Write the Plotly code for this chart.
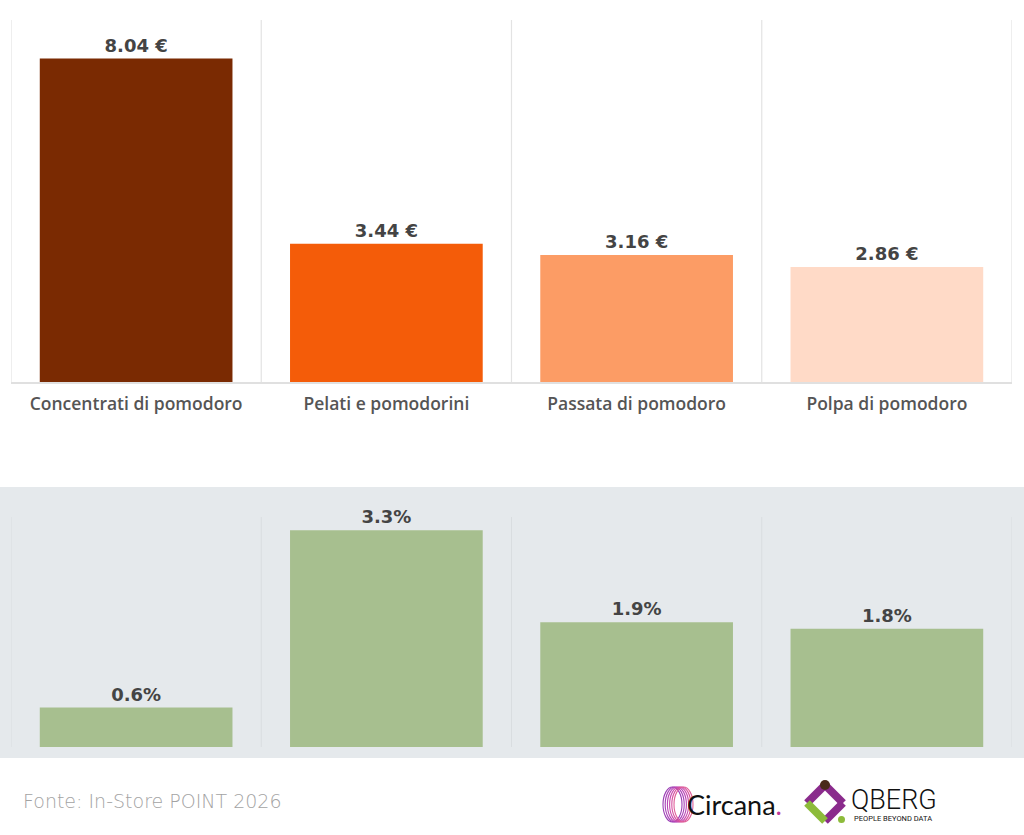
import plotly.graph_objects as go

categories = ["Concentrati di pomodoro", "Pelati e pomodorini", "Passata di pomodoro", "Polpa di pomodoro"]
prices = [8.04, 3.44, 3.16, 2.86]
price_labels = ["8.04 €", "3.44 €", "3.16 €", "2.86 €"]
growth = [0.6, 3.3, 1.9, 1.8]
growth_labels = ["0.6%", "3.3%", "1.9%", "1.8%"]
price_colors = ["#7A2A02", "#F45C09", "#FC9C65", "#FFDAC7"]
growth_color = "#A7BF8F"
source_text = "Fonte: In-Store POINT 2026"

W, H = 1024, 835
def px(x):
    return x / W
def py(y):
    return 1 - y / H

LABEL_FONT = dict(family="DejaVu Sans", size=18, color="#444444", weight=700)
fig = go.Figure()

fig.add_trace(go.Bar(
    x=categories, y=prices, text=price_labels, textposition="outside",
    texttemplate="%{text}", cliponaxis=False, width=0.77,
    marker=dict(color=price_colors, line=dict(width=0)),
    textfont=LABEL_FONT,
    xaxis="x", yaxis="y", hoverinfo="skip", showlegend=False,
))
fig.add_trace(go.Bar(
    x=categories, y=growth, text=growth_labels, textposition="outside",
    texttemplate="%{text}", cliponaxis=False, width=0.77,
    marker=dict(color=growth_color, line=dict(width=0)),
    textfont=LABEL_FONT,
    xaxis="x2", yaxis="y2", hoverinfo="skip", showlegend=False,
))

shapes = []
shapes.append(dict(type="rect", xref="paper", yref="paper", x0=0, x1=1,
                   y0=py(758), y1=py(487), fillcolor="#E5E9EC", line=dict(width=0), layer="below"))
for i in range(len(categories) + 1):
    shapes.append(dict(type="line", xref="x", yref="y domain", x0=i - 0.5, x1=i - 0.5,
                       y0=0, y1=1, line=dict(color="#E3E3E3", width=1.2), layer="below"))
    shapes.append(dict(type="line", xref="x2", yref="y2 domain", x0=i - 0.5, x1=i - 0.5,
                       y0=0, y1=1, line=dict(color="#D9DDE0", width=1), layer="below"))

# Circana logo rings
ring_cols = ["#9B3FB5", "#A843B8", "#B947B6", "#C84CAE", "#D6529F", "#E0609A"]
for k, c in enumerate(ring_cols):
    x0 = 663 + k * 2.2
    shapes.append(dict(type="circle", xref="paper", yref="paper",
                       x0=px(x0), x1=px(x0 + 19), y0=py(822), y1=py(787),
                       line=dict(color=c, width=1.1), fillcolor="rgba(0,0,0,0)"))
# QBERG diamond
cx, cy, r = 825, 803, 18
top = (px(cx), py(cy - r)); right = (px(cx + r), py(cy)); bot = (px(cx), py(cy + r)); left = (px(cx - r), py(cy))
def seg(a, b, col, w=8):
    return dict(type="line", xref="paper", yref="paper", x0=a[0], y0=a[1], x1=b[0], y1=b[1],
                line=dict(color=col, width=w))
shapes.append(seg(left, top, "#8A2B8C"))
shapes.append(seg(top, right, "#8A2B8C"))
shapes.append(seg(right, bot, "#8A2B8C"))
shapes.append(seg(bot, left, "#8DBB3A"))
shapes.append(dict(type="circle", xref="paper", yref="paper", x0=px(838), x1=px(845),
                   y0=py(823), y1=py(816), fillcolor="#8DBB3A", line=dict(width=0)))
shapes.append(dict(type="circle", xref="paper", yref="paper", x0=px(cx - 5), x1=px(cx + 5),
                   y0=py(cy - r + 5), y1=py(cy - r - 5), fillcolor="#4A2A1A", line=dict(width=0)))

annotations = [
    dict(text=source_text, xref="paper", yref="paper", x=px(21), y=py(801),
         xanchor="left", yanchor="middle", showarrow=False,
         font=dict(family="DejaVu Sans", size=19, color="#A3A3A3", weight=200)),
    dict(text="Circana<span style='color:#C0399A'>.</span>", xref="paper", yref="paper", x=px(685), y=py(804),
         xanchor="left", yanchor="middle", showarrow=False,
         font=dict(family="Lato", size=27, color="#111111")),
    dict(text="QBERG", xref="paper", yref="paper", x=px(849), y=py(800),
         xanchor="left", yanchor="middle", showarrow=False,
         font=dict(family="Roboto", size=27, color="#111111", weight=300)),
    dict(text="PEOPLE BEYOND DATA", xref="paper", yref="paper", x=px(852), y=py(818),
         xanchor="left", yanchor="middle", showarrow=False,
         font=dict(family="Roboto", size=7.5, color="#111111")),
]

fig.update_layout(
    width=W, height=H,
    margin=dict(l=0, r=0, t=0, b=0),
    paper_bgcolor="white", plot_bgcolor="rgba(0,0,0,0)",
    xaxis=dict(domain=[px(11), px(1012)], range=[-0.5, 3.5], showgrid=False,
               showline=True, linecolor="#E0E0E0", linewidth=1.5, ticks="",
               ticklabelstandoff=5,
               tickfont=dict(family="Open Sans", size=17.5, color="#555555", weight=600),
               fixedrange=True),
    yaxis=dict(domain=[py(382), py(20)], range=[0, 9], visible=False, fixedrange=True),
    xaxis2=dict(domain=[px(11), px(1012)], range=[-0.5, 3.5], showgrid=False,
                showline=False, showticklabels=False, anchor="y2", fixedrange=True),
    yaxis2=dict(domain=[py(747), py(517)], range=[0, 3.5], visible=False, anchor="x2", fixedrange=True),
    shapes=shapes,
    annotations=annotations,
)

fig.write_html("out.html")
